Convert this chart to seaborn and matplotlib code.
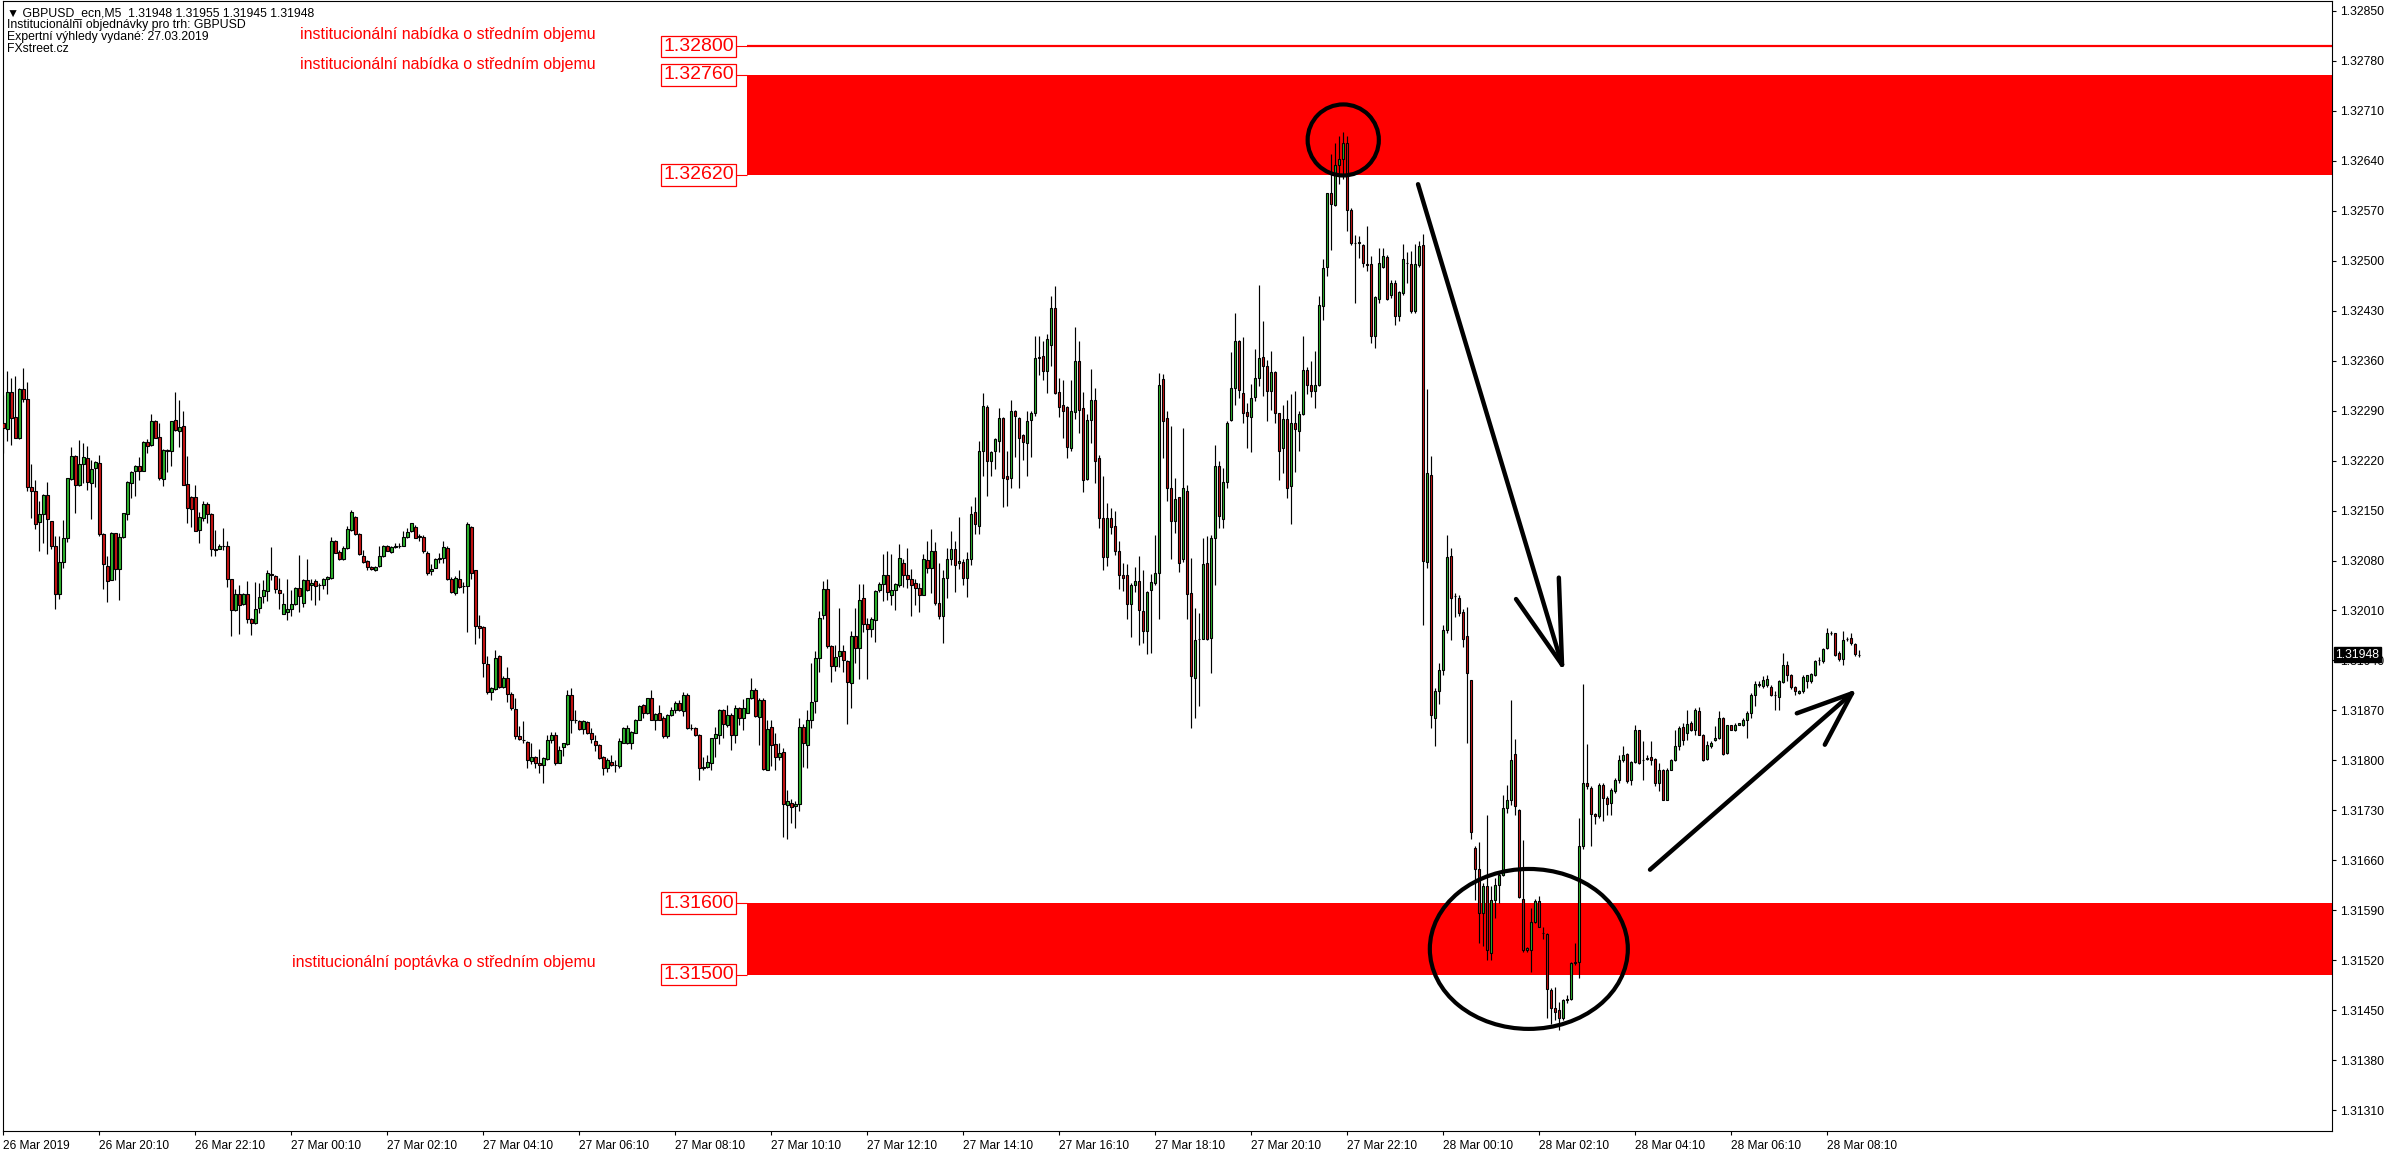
import numpy as np
import pandas as pd
import matplotlib
matplotlib.use("Agg")
import matplotlib.pyplot as plt
import matplotlib.transforms as mtrans
from matplotlib.patches import Ellipse
import seaborn as sns

# ---------------- data (GBPUSD M5, prices in pips above BASE) ----------------
BASE = 1.31000
PIP = 0.0001

OPEN_PIPS = [
127.2,126.4,131.6,128.1,125.1,132.0,130.6,118.3,117.7,113.4,
114.5,117.2,113.6,110.0,103.3,107.8,111.1,119.4,122.7,118.6,
121.5,122.3,118.8,120.9,121.6,111.7,107.2,105.3,111.8,106.8,
111.3,114.5,118.8,120.6,121.3,120.6,124.6,124.2,127.6,125.3,
119.4,123.4,123.4,127.7,126.2,126.9,118.7,116.9,116.9,112.3,
114.0,115.9,114.5,109.6,109.6,110.0,110.1,105.4,101.0,103.3,
101.9,103.3,99.8,99.2,101.3,103.0,103.7,106.1,105.8,103.9,
100.5,100.8,101.2,101.9,104.1,102.0,105.2,104.5,105.1,104.6,
104.5,105.4,105.6,110.7,109.2,108.2,109.7,112.3,114.1,111.7,
108.6,107.9,107.1,106.7,107.2,108.7,110.0,109.2,109.9,110.0,
110.1,111.3,112.1,112.7,111.3,111.3,109.1,106.5,107.0,108.2,
108.3,109.8,105.4,103.4,105.4,104.4,104.4,112.7,106.6,98.8,
98.7,93.5,89.6,90.0,94.6,90.3,91.5,89.3,87.2,83.4,
82.9,82.6,79.9,80.5,79.7,79.3,80.2,82.8,83.5,79.7,
81.9,82.3,89.2,85.6,85.5,84.4,85.4,83.8,82.7,82.1,
80.5,79.0,79.8,79.3,79.2,82.5,82.4,82.4,83.9,85.7,
87.7,86.6,88.7,85.6,86.6,86.0,83.4,86.3,87.1,88.1,
86.9,89.2,84.5,84.5,83.5,79.1,79.1,79.7,83.1,83.6,
87.1,85.0,86.4,83.5,87.3,85.9,86.7,88.7,89.9,86.1,
88.5,78.7,84.7,82.3,80.5,81.2,73.8,74.1,73.6,73.9,
84.7,82.2,85.7,88.3,94.3,100.4,104.0,96.0,93.2,94.6,
95.3,93.9,90.9,97.4,95.7,102.7,99.1,98.4,99.6,103.8,
104.7,106.0,103.2,103.8,104.5,107.6,105.9,105.4,104.9,104.1,
103.2,108.1,106.9,109.4,102.0,100.2,105.6,108.2,109.6,107.6,
107.8,105.5,108.2,114.8,112.9,123.4,129.5,122.0,123.3,124.8,
127.9,119.8,119.5,129.0,127.9,125.6,124.5,127.7,128.7,136.3,
136.6,134.5,138.2,143.3,131.6,129.8,129.5,123.7,128.8,136.0,
129.4,119.4,127.7,130.5,122.4,114.0,108.5,114.0,112.8,109.3,
105.9,105.9,101.9,104.5,105.1,100.9,98.1,103.9,104.8,106.2,
133.4,128.0,118.2,113.5,116.9,108.2,117.8,103.5,91.5,97.0,
97.0,107.6,97.1,111.1,121.3,113.8,119.0,127.7,132.1,138.8,
131.5,128.8,128.1,130.9,133.5,136.5,135.3,131.7,134.4,128.6,
123.8,127.8,118.5,127.2,126.2,128.5,134.7,132.6,131.8,132.6,
143.6,149.1,159.4,157.8,163.4,164.2,166.5,157.1,152.5,152.4,
152.2,149.5,149.5,139.5,144.6,149.1,150.5,145.2,146.8,142.2,
145.4,149.6,149.5,142.9,149.4,152.2,107.8,120.0,85.9,89.7,
92.6,98.2,108.7,103.0,102.8,100.8,97.4,91.2,67.8,64.8,
58.6,62.4,53.0,60.5,62.6,64.0,73.4,74.4,80.9,73.1,
60.6,53.5,53.5,57.4,60.3,55.9,55.7,47.9,45.3,45.0,
43.9,46.4,46.6,51.6,51.7,68.0,76.8,76.1,72.5,72.2,
76.6,74.7,74.0,75.7,77.3,80.0,80.9,77.3,79.8,84.2,
80.0,80.2,80.5,80.2,76.9,78.6,74.5,78.7,80.0,82.0,
84.7,83.9,85.2,84.2,86.9,83.6,80.2,82.0,82.9,83.1,
85.9,81.0,84.9,84.3,85.0,85.0,85.6,86.6,89.2,90.7,
90.4,90.5,90.3,89.1,88.9,91.0,93.3,91.9,90.3,89.5,
89.7,91.1,91.1,92.0,94.0,93.9,95.7,97.8,97.8,95.0,
94.2,97.0,97.1,96.3,94.8]

HIGH_PIPS = [
131.2,134.6,133.6,133.9,132.2,134.9,133.0,121.5,119.3,116.3,
117.3,119.0,113.6,111.4,111.4,113.7,119.5,123.9,122.8,124.9,
124.4,124.0,122.1,122.0,122.8,111.8,108.6,112.0,111.9,111.9,
114.6,119.1,120.6,121.4,122.5,124.7,125.0,128.5,127.7,127.2,
123.6,123.6,127.6,131.6,130.5,129.0,122.7,117.1,118.6,114.8,
116.3,116.2,114.6,112.3,110.3,112.5,110.8,105.4,104.0,104.6,
103.5,105.1,99.9,105.0,104.9,105.3,106.6,109.9,106.0,105.5,
103.4,105.4,103.8,104.3,108.8,105.4,108.2,105.4,105.4,104.8,
105.5,105.8,111.3,110.9,109.5,110.0,112.8,115.1,114.2,111.8,
109.5,108.1,107.2,107.2,110.0,110.2,110.2,110.0,110.5,110.5,
112.1,112.5,113.3,113.0,111.7,111.6,109.4,107.5,108.3,109.1,
110.8,110.0,105.7,105.8,106.6,105.0,113.4,112.8,106.7,100.3,
98.8,94.6,90.3,95.5,94.7,91.8,93.1,89.6,88.7,84.8,
85.5,82.7,82.4,80.6,81.6,80.5,83.6,84.0,84.0,82.0,
82.5,89.8,90.2,87.0,85.7,85.7,85.5,84.5,83.6,82.3,
80.6,80.3,80.8,80.1,83.1,84.7,85.0,84.1,85.8,87.8,
87.9,88.8,89.8,86.7,87.8,86.2,86.5,87.5,88.3,88.4,
89.6,89.4,85.1,84.7,83.7,80.5,80.8,83.2,84.7,87.2,
87.2,87.8,86.6,87.8,87.5,88.6,88.8,91.5,90.1,88.7,
88.7,85.6,85.6,83.8,82.5,81.7,75.9,74.6,74.3,85.9,
85.1,87.0,93.7,95.3,100.9,105.1,105.4,96.2,96.2,101.4,
96.2,94.0,98.1,101.4,104.7,104.7,99.9,100.1,103.9,105.0,
108.9,109.4,108.9,104.9,110.3,108.2,109.8,106.8,105.4,104.9,
108.9,110.7,112.4,110.6,107.6,106.6,109.7,112.1,110.7,114.1,
108.2,109.2,115.6,116.9,124.7,131.4,129.8,123.4,125.2,129.3,
128.1,123.4,130.5,129.1,128.1,125.7,129.0,129.0,139.5,139.4,
138.8,139.7,145.1,146.5,133.6,133.3,129.6,133.3,140.7,138.7,
131.6,128.5,134.8,132.1,122.8,119.9,116.1,115.4,115.0,110.7,
107.6,107.5,104.9,107.1,108.6,106.7,103.7,106.1,111.6,134.3,
134.1,128.9,126.8,119.5,116.9,126.5,118.6,108.3,101.4,100.7,
111.1,111.4,111.6,124.2,121.9,121.0,127.6,137.2,142.7,138.9,
139.3,130.0,132.7,137.6,146.6,141.5,136.1,137.3,134.5,128.6,
129.8,130.5,131.3,131.8,128.9,139.5,135.1,135.9,137.3,145.0,
150.2,159.5,165.0,166.5,167.5,168.0,167.5,157.3,153.6,153.5,
152.3,154.8,150.6,145.0,151.7,151.8,150.8,147.3,147.3,145.8,
152.3,151.2,151.4,152.3,152.8,153.7,132.0,122.7,90.1,93.6,
98.9,111.6,109.7,103.5,103.2,101.2,101.5,91.2,68.0,68.6,
62.8,72.4,62.4,63.6,64.4,75.1,76.5,88.4,83.0,73.2,
68.9,53.9,59.3,60.6,61.0,56.7,55.8,48.1,48.3,46.1,
46.6,47.2,51.8,54.4,71.9,90.7,82.3,76.4,72.6,76.8,
76.9,75.0,76.1,77.5,80.8,82.0,81.0,79.9,85.0,84.3,
82.7,80.7,82.7,80.3,79.7,78.8,78.9,80.2,84.3,84.8,
85.3,87.1,85.5,87.3,87.5,83.7,82.7,82.7,84.8,86.9,
86.1,85.0,85.0,85.2,85.3,85.9,86.9,89.4,91.1,91.1,
91.8,91.9,90.5,89.7,91.3,95.1,93.9,92.1,90.4,89.9,
91.9,92.0,92.2,94.1,94.5,95.7,98.5,98.1,97.9,95.3,
98.1,97.3,97.8,96.5,95.5]

LOW_PIPS = [
123.0,124.8,124.2,125.1,125.0,130.2,117.7,114.0,112.4,109.3,
110.5,108.9,109.6,101.2,102.6,107.0,110.6,119.3,114.7,118.5,
118.8,117.9,113.8,118.3,111.4,104.0,102.2,105.2,105.3,102.5,
111.1,113.7,116.7,117.0,119.3,120.5,123.0,124.1,125.1,119.3,
118.5,120.4,121.3,126.2,123.9,118.6,113.3,112.7,112.1,110.4,
113.6,113.3,108.7,108.7,109.6,109.5,104.3,97.4,100.9,97.7,
101.7,99.3,97.5,99.1,100.6,102.0,102.3,105.3,103.4,101.2,
100.5,99.6,100.2,101.8,100.8,101.5,103.7,102.4,101.7,102.5,
104.0,103.3,105.4,109.0,108.1,108.1,109.6,112.2,111.6,108.8,
107.6,106.7,106.7,106.5,107.1,108.5,109.3,109.0,109.7,109.7,
110.0,111.1,112.0,111.1,110.8,109.1,105.9,106.0,106.9,107.6,
107.7,105.2,103.4,103.2,104.1,103.5,98.0,105.4,96.3,97.1,
91.7,89.3,88.4,89.9,90.2,90.2,88.2,87.1,83.0,82.9,
82.4,79.0,79.5,79.0,78.2,76.9,80.1,82.5,79.3,79.6,
80.6,82.2,83.9,85.3,84.2,83.7,83.7,82.4,81.3,80.2,
77.9,78.4,79.2,78.4,79.0,82.4,82.3,81.6,83.8,85.6,
86.0,86.5,85.6,84.2,85.6,83.1,83.1,86.2,86.6,86.9,
86.2,84.4,84.2,83.4,77.2,78.6,79.0,78.6,80.5,82.3,
83.1,84.7,81.4,82.4,85.0,84.3,86.6,88.6,86.1,82.2,
78.6,78.6,79.2,78.7,80.0,69.3,69.0,71.3,70.5,72.9,
79.1,79.0,84.6,86.6,92.4,99.8,95.7,91.0,92.5,93.1,
92.4,85.1,87.3,93.7,91.4,98.0,91.4,97.3,96.6,103.6,
102.3,102.4,101.8,101.0,104.3,104.3,104.1,100.2,101.7,100.8,
103.1,106.3,103.5,101.8,99.8,96.4,102.7,107.4,103.6,106.8,
104.6,102.9,107.4,111.7,111.7,119.9,117.1,119.9,120.8,123.2,
115.5,115.7,118.1,122.5,118.2,122.1,119.8,122.5,128.2,134.0,
133.3,131.4,135.2,131.3,128.1,125.1,122.3,123.4,127.8,125.9,
117.6,119.3,124.5,118.8,112.5,106.7,107.2,111.7,108.8,104.0,
103.7,99.8,97.3,103.6,96.1,96.5,94.9,95.0,104.5,99.8,
122.4,116.4,108.2,111.8,106.4,107.8,99.8,84.6,85.9,87.6,
97.0,96.9,92.2,104.5,112.6,112.6,118.2,127.6,129.8,130.8,
127.2,123.8,123.2,130.4,132.4,131.1,127.5,129.1,127.2,119.3,
120.3,116.7,113.1,120.4,123.4,128.4,131.3,130.9,129.3,132.4,
141.7,147.9,151.5,157.7,160.8,161.5,154.2,152.2,144.0,150.4,
149.1,148.5,138.5,137.7,144.0,148.9,144.5,144.8,141.0,141.6,
145.2,146.8,142.7,142.7,149.1,98.9,107.0,84.6,82.0,87.9,
92.0,97.9,96.9,100.1,100.2,95.9,82.4,69.0,60.5,54.4,
54.0,52.1,52.1,58.0,60.1,63.8,72.6,73.8,72.3,60.7,
53.2,53.1,50.3,57.3,56.7,55.0,43.9,43.1,43.7,42.3,
43.7,46.0,46.5,51.4,49.5,67.6,76.0,68.0,71.1,71.9,
71.5,72.4,72.4,75.5,76.9,79.8,76.9,76.6,79.6,79.5,
77.3,80.0,79.4,76.4,75.7,74.4,74.4,78.6,79.9,81.4,
82.1,82.8,84.1,83.6,83.5,79.9,80.0,81.7,82.7,83.0,
80.8,80.9,84.2,84.1,84.9,84.8,83.1,85.9,87.6,90.3,
90.1,90.3,89.0,87.1,87.1,90.8,91.1,90.0,89.1,89.3,
89.5,90.1,90.8,91.8,93.3,93.7,95.6,97.6,94.6,93.9,
93.4,96.7,96.2,94.6,94.5]

CLOSE_PIPS = [
126.5,131.6,128.0,125.2,132.0,130.6,118.3,117.7,113.1,114.5,
117.2,113.8,110.0,103.3,107.8,111.1,119.5,122.7,118.6,121.5,
122.5,119.0,120.8,121.8,111.7,107.5,105.1,111.9,106.8,111.3,
114.6,119.0,120.4,121.3,120.6,124.6,124.1,127.6,125.2,119.6,
123.5,123.5,127.6,126.3,126.7,118.6,115.3,115.2,112.2,114.1,
115.9,114.5,109.6,109.5,110.0,110.1,105.4,101.0,103.3,101.8,
103.3,99.8,99.3,101.2,102.9,103.8,106.2,106.0,104.0,103.5,
101.9,101.2,101.9,104.1,103.0,105.3,103.9,104.9,104.4,104.5,
105.4,105.7,110.7,109.1,108.2,109.7,112.4,114.8,111.7,108.9,
107.8,107.1,106.8,107.1,108.7,110.0,109.4,109.9,110.0,110.1,
111.3,112.0,113.2,111.2,111.4,109.3,106.3,106.8,108.2,108.3,
109.9,105.4,103.6,105.5,104.3,104.4,113.1,106.3,98.8,98.6,
93.6,89.6,90.1,94.3,90.3,91.5,89.3,87.3,83.4,83.0,
82.8,80.0,80.5,79.6,79.3,80.3,82.9,83.5,79.7,81.5,
82.4,89.2,85.7,85.6,84.4,85.5,83.9,83.0,82.1,80.3,
79.0,80.1,79.3,79.3,82.7,84.6,84.6,84.0,85.7,87.6,
86.6,88.7,85.7,86.5,85.7,83.4,86.3,87.1,88.1,87.0,
89.2,84.5,84.5,83.5,79.0,78.9,79.8,83.1,83.7,87.0,
85.1,86.4,83.5,87.4,85.9,87.3,88.7,89.8,86.2,88.5,
78.8,84.4,82.1,80.5,81.0,73.9,74.3,73.5,73.9,84.7,
82.5,85.6,88.2,94.3,99.9,104.0,96.0,93.2,94.5,95.3,
94.1,91.0,97.4,95.7,102.5,99.1,98.4,99.8,103.7,104.7,
106.0,103.6,103.8,104.7,108.3,106.0,105.4,104.6,104.1,103.2,
108.2,107.0,109.3,102.0,100.2,105.5,108.2,109.6,107.4,108.0,
105.6,108.2,114.5,113.1,123.4,129.6,122.0,123.2,125.0,127.9,
119.6,119.4,129.0,128.2,125.1,124.6,127.6,128.7,136.4,136.5,
134.5,139.0,143.3,131.4,129.5,129.0,123.9,129.0,136.0,129.1,
119.3,127.7,130.5,122.0,114.0,108.5,114.0,112.7,109.4,105.9,
105.5,101.9,104.5,105.1,101.0,98.1,103.6,105.0,106.2,132.6,
127.5,118.2,113.5,116.6,107.6,118.1,103.3,91.8,96.8,97.0,
107.5,97.0,111.2,121.3,114.3,119.0,127.3,132.1,138.7,131.9,
128.6,128.2,130.8,133.5,136.3,135.3,131.7,134.4,128.6,123.4,
127.8,118.2,127.2,126.4,128.5,134.7,132.6,131.7,132.6,143.8,
149.0,159.5,157.9,163.4,164.2,166.5,157.1,152.5,152.4,152.6,
149.6,149.4,139.5,144.9,149.6,150.6,144.6,146.9,142.3,145.6,
150.2,149.6,142.9,149.5,152.1,107.9,120.3,86.3,89.7,92.6,
98.2,108.5,102.8,103.0,100.7,97.0,92.2,70.0,64.8,58.6,
62.4,53.4,60.5,62.6,64.0,73.4,74.4,80.1,73.6,60.9,
53.5,53.7,57.4,60.3,56.7,55.8,48.0,45.3,44.8,43.9,
46.5,46.6,51.6,51.7,68.0,76.8,76.4,72.5,72.2,76.6,
74.8,73.9,75.8,77.3,80.0,80.8,77.1,79.8,84.2,79.7,
80.0,80.3,80.0,76.9,78.6,74.5,78.7,80.0,82.0,84.5,
82.9,85.1,84.2,87.0,83.6,80.1,82.1,82.5,83.1,85.9,
80.9,84.9,84.3,85.0,85.2,85.6,86.6,89.2,90.7,90.5,
91.3,91.4,89.2,89.1,91.1,93.3,92.0,90.3,89.7,89.7,
91.7,91.9,92.1,93.9,94.0,95.6,97.8,97.9,94.8,94.2,
96.8,97.0,96.4,94.9,94.8]

# x axis: one bar per 5 minutes, labels every 24 bars
X_TICK_POS = [0, 24, 48, 72, 96, 120, 144, 168, 192, 216, 240, 264, 288,
              312, 336, 360, 384, 408, 432, 456]
X_TICK_LABELS = ["26 Mar 2019", "26 Mar 20:10", "26 Mar 22:10", "27 Mar 00:10",
                 "27 Mar 02:10", "27 Mar 04:10", "27 Mar 06:10", "27 Mar 08:10",
                 "27 Mar 10:10", "27 Mar 12:10", "27 Mar 14:10", "27 Mar 16:10",
                 "27 Mar 18:10", "27 Mar 20:10", "27 Mar 22:10", "28 Mar 00:10",
                 "28 Mar 02:10", "28 Mar 04:10", "28 Mar 06:10", "28 Mar 08:10"]
Y_TICK_LABELS = ["1.31310", "1.31380", "1.31450", "1.31520", "1.31590", "1.31660",
                 "1.31730", "1.31800", "1.31870", "1.31940", "1.32010", "1.32080",
                 "1.32150", "1.32220", "1.32290", "1.32360", "1.32430", "1.32500",
                 "1.32570", "1.32640", "1.32710", "1.32780", "1.32850"]

# institutional order levels
SUPPLY_ZONE = (1.32620, 1.32760)
DEMAND_ZONE = (1.31500, 1.31600)
SUPPLY_LINE = 1.32800
LEVEL_LABELS = [1.32800, 1.32760, 1.32620, 1.31600, 1.31500]

HEADER = ["\u25bc GBPUSD_ecn,M5  1.31948 1.31955 1.31945 1.31948",
          "Institucionální objednávky pro trh: GBPUSD",
          "Expertní výhledy vydané: 27.03.2019",
          "FXstreet.cz"]
SUPPLY_TEXT = "institucionální nabídka o středním objemu"
DEMAND_TEXT = "institucionální poptávka o středním objemu"

n = len(CLOSE_PIPS)
assert len(OPEN_PIPS) == n and len(HIGH_PIPS) == n and len(LOW_PIPS) == n, \
    (len(OPEN_PIPS), len(HIGH_PIPS), len(LOW_PIPS), n)

df = pd.DataFrame({
    "bar": np.arange(n),
    "open": BASE + np.array(OPEN_PIPS) * PIP,
    "high": BASE + np.array(HIGH_PIPS) * PIP,
    "low": BASE + np.array(LOW_PIPS) * PIP,
    "close": BASE + np.array(CLOSE_PIPS) * PIP,
})
df["high"] = df[["high", "open", "close"]].max(axis=1)
df["low"] = df[["low", "open", "close"]].min(axis=1)
df["bull"] = df["close"] >= df["open"]

# ---------------- style ----------------
sns.set_theme(style="white")
plt.rcParams["font.family"] = ["Liberation Sans", "DejaVu Sans"]
plt.rcParams["axes.linewidth"] = 0.8

W, H = 2396, 1154
fig = plt.figure(figsize=(W / 100, H / 100), dpi=100)
fig.patch.set_facecolor("white")
ax = fig.add_axes([2.5 / W, 1 - 1130.5 / H, (2332 - 2.5) / W, (1130.5 - 1) / H])
ax.set_facecolor("white")

X_MIN, X_MAX = -0.2, 582.2
ax.set_xlim(X_MIN, X_MAX)
ax.set_ylim(1.312817, 1.328636)

RED = "#ff0000"
GREEN_BODY = "#2db52d"
RED_BODY = "#c81414"

# zones (annotation objects start at this bar)
ZONE_X0 = 185.9
LABEL_X = 183.0
ax.fill_between([ZONE_X0, X_MAX], SUPPLY_ZONE[0], SUPPLY_ZONE[1], color=RED, lw=0, zorder=1)
ax.fill_between([ZONE_X0, X_MAX], DEMAND_ZONE[0], DEMAND_ZONE[1], color=RED, lw=0, zorder=1)
ax.hlines(SUPPLY_LINE, ZONE_X0, X_MAX, color=RED, lw=1.6, zorder=1)

for lv in LEVEL_LABELS:
    ax.hlines(lv, LABEL_X, ZONE_X0, color=RED, lw=0.8, zorder=1)
    ax.text(LABEL_X - 0.4, lv, f"{lv:.5f}", color=RED, fontsize=14, ha="right",
            va="center", zorder=5,
            bbox=dict(boxstyle="square,pad=0.12", fc="white", ec=RED, lw=0.9))

# candles
bars = df["bar"].to_numpy()
ax.vlines(bars, df["low"], df["high"], colors="black", linewidth=0.85, zorder=3)
body_lo = np.minimum(df["open"], df["close"])
body_h = np.abs(df["close"] - df["open"])
colors = np.where(df["bull"], GREEN_BODY, RED_BODY)
ax.bar(bars, body_h, bottom=body_lo, width=0.62, color=colors,
       edgecolor="black", linewidth=0.8, zorder=4)

# hand-drawn annotations (bar index, price)
ax.add_patch(Ellipse((335.0, 1.32669), 17.8, 0.000995, fill=False, ec="black", lw=3.0, zorder=6))
ax.add_patch(Ellipse((381.4, 1.31536), 49.5, 0.00224, fill=False, ec="black", lw=3.0, zorder=6))
ARROW_DOWN = [((353.7, 1.32607), (389.7, 1.31934)),
              ((378.2, 1.32026), (389.7, 1.31934)),
              ((388.9, 1.32056), (389.7, 1.31934))]
ARROW_UP = [((411.7, 1.31647), (462.2, 1.31894)),
            ((448.4, 1.31866), (462.2, 1.31894)),
            ((455.4, 1.31822), (462.2, 1.31894))]
for (x0, y0), (x1, y1) in ARROW_DOWN + ARROW_UP:
    ax.plot([x0, x1], [y0, y1], color="black", lw=3.2, solid_capstyle="round", zorder=6)

# axes / ticks
for s in ax.spines.values():
    s.set_color("black")
    s.set_linewidth(0.8)
ax.yaxis.tick_right()
ax.set_yticks([float(t) for t in Y_TICK_LABELS])
ax.set_yticklabels(Y_TICK_LABELS)
ax.tick_params(axis="y", which="both", right=True, left=False, direction="out",
               length=3, width=0.8, pad=3, labelsize=8.8, colors="black")
ax.set_xticks(X_TICK_POS)
ax.set_xticklabels(X_TICK_LABELS)
ax.tick_params(axis="x", which="both", bottom=True, direction="out",
               length=3, width=0.8, pad=3.5, labelsize=8.6, colors="black")
for lab in ax.get_xticklabels():
    lab.set_horizontalalignment("left")
ax.grid(False)

# current price label (drawn over the 1.31940 scale label, as in the terminal)
last = df["close"].iloc[-1]
trans = mtrans.blended_transform_factory(ax.transAxes, ax.transData)
ax.annotate(f"{last:.5f}", xy=(1.0, last), xycoords=trans, xytext=(2.5, 0),
            textcoords="offset points", ha="left", va="center", color="white",
            fontsize=8.8, zorder=10, annotation_clip=False,
            bbox=dict(boxstyle="square,pad=0.12", fc="black", ec="black"))

# texts
for k, line in enumerate(HEADER):
    fig.text(7 / W, 1 - (13.3 + 12.0 * k) / H, line, fontsize=8.8, color="black",
             ha="left", va="center")
fig.text(596 / W, 1 - 35 / H, SUPPLY_TEXT, fontsize=11.5, color=RED, ha="right", va="center")
fig.text(596 / W, 1 - 65 / H, SUPPLY_TEXT, fontsize=11.5, color=RED, ha="right", va="center")
fig.text(596 / W, 1 - 963 / H, DEMAND_TEXT, fontsize=11.5, color=RED, ha="right", va="center")

fig.savefig("out.png", dpi=100, facecolor="white")
